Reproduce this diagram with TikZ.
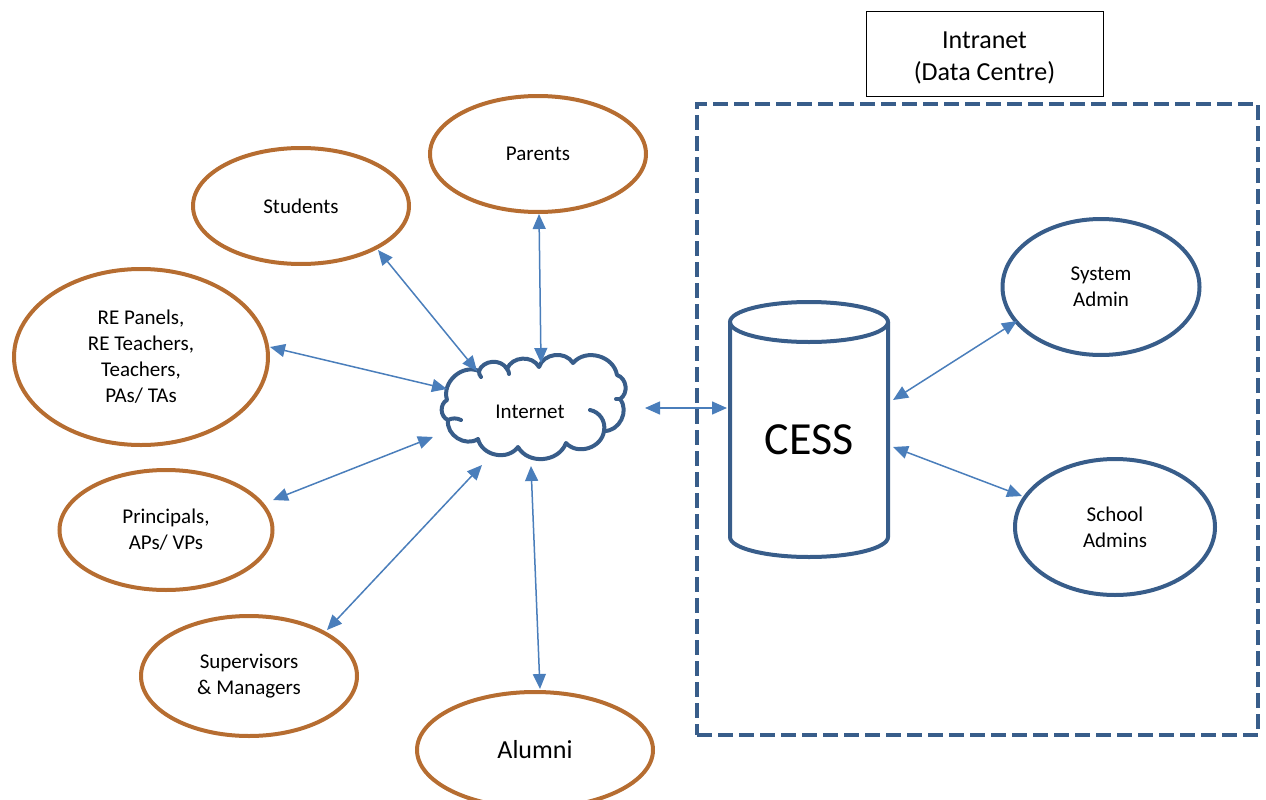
\documentclass[tikz,border=0pt]{standalone}
\usepackage{fontspec}
\setmainfont{Carlito}
\usetikzlibrary{shapes.geometric,arrows.meta,calc}
\definecolor{userring}{HTML}{B66D31}
\definecolor{adminring}{HTML}{385D8A}
\definecolor{linkblue}{HTML}{4A7EBB}
\begin{document}
\begin{tikzpicture}[x=1pt,y=-1pt,
  lbl/.style={font=\fontsize{21}{26}\selectfont},
  user/.style={ellipse,draw=userring,line width=4pt,inner sep=0pt,align=center,lbl},
  admin/.style={ellipse,draw=adminring,line width=4pt,inner sep=0pt,align=center,lbl},
  link/.style={draw=linkblue,line width=1.5pt,
    {Triangle[length=15pt,width=13pt]}-{Triangle[length=15pt,width=13pt]}},
  puff/.style={bend left=65,looseness=1.1},
  cloudline/.style={draw=adminring,line width=4pt,line cap=round,line join=round},
]
\path[use as bounding box] (0,0) rectangle (1266,800);
\clip (0,0) rectangle (1266,800);

% data centre frame and its caption
\node[draw=adminring,line width=4.5pt,dash pattern=on 15pt off 6pt,
      minimum width=561pt,minimum height=631pt] (dc) at (977.5,419.5) {};
\node[draw=black,line width=1pt,minimum width=237pt,minimum height=84pt,inner sep=0pt,
      label={[yshift=-4pt,align=center,font=\fontsize{26}{32}\selectfont]center:Intranet\\(Data Centre)}]
  (intra) at (984.5,54) {};

% user groups
\node[user,minimum width=216pt,minimum height=116pt] (parents) at (538,154) {Parents};
\node[user,minimum width=216pt,minimum height=116pt] (students) at (301,206) {Students};
\node[user,minimum width=254pt,minimum height=176pt] (repanel) at (141,357)
  {RE Panels,\\RE Teachers,\\Teachers,\\PAs/ TAs};
\node[user,minimum width=213pt,minimum height=120pt] (principals) at (166,530) {Principals,\\APs/ VPs};
\node[user,minimum width=216pt,minimum height=120pt] (supervisors) at (249,676) {Supervisors\\\& Managers};
\node[user,minimum width=236pt,minimum height=116pt,font=\fontsize{26}{30}\selectfont] (alumni) at (535,750) {Alumni};

% administrators
\node[admin,minimum width=197pt,minimum height=136pt] (sysadmin) at (1101,287) {System\\Admin};
\node[admin,minimum width=200pt,minimum height=136pt] (schooladmin) at (1115,527) {School\\Admins};

% internet cloud: label node plus puffed outline around it
\node[inner sep=0pt,lbl] (inet) at (530,412) {Internet};
\begin{scope}[shift={(inet.center)}]
  \draw[cloudline]
    (-83,-12) to[puff] (-51,-41) to[puff] (-23,-43) to[puff] (9,-45)
    to[puff] (43,-49) to[puff] (87,-37) to[puff] (90,-13) to[puff] (74,19)
    to[puff] (36,31) to[puff] (-12,35) to[puff] (-52,27) to[puff] (-82,8)
    to[puff] cycle;
  % inner folds of the puffs
  \draw[cloudline] (60,-2) to[bend left=45] (74,19);
  \draw[cloudline] (-82,8) to[bend left=25] (-69,8);
  \draw[cloudline] (-51,-41) to[bend right=20] (-49,-35);
  \draw[cloudline] (-23,-43) to[bend left=20] (-21,-38);
  \draw[cloudline] (90,-13) to[bend left=20] (86,-13);
\end{scope}

% central server
\node[minimum width=158pt,inner sep=0pt,font=\fontsize{46}{50}\selectfont] (cess) at (809,440) {CESS};
\draw[adminring,line width=4pt]
  ($(cess)+(-79,-118)$) -- ($(cess)+(-79,97)$)
  arc[start angle=180,end angle=360,x radius=79pt,y radius=20pt]
  -- ($(cess)+(79,-118)$);
\draw[adminring,line width=4pt] ($(cess)+(0,-118)$) ellipse[x radius=79pt,y radius=20pt];

% connections
\draw[link] ($(parents)+(1,60)$) -- ($(inet)+(11,-49)$);
\draw[link] ($(students)+(77,44)$) -- ($(inet)+(-53,-41)$);
\draw[link] ($(repanel)+(129,-10)$) -- ($(inet)+(-83,-23)$);
\draw[link] ($(principals)+(107,-30)$) -- ($(inet)+(-97,25)$);
\draw[link] ($(supervisors)+(78,-46)$) -- ($(inet)+(-48,53)$);
\draw[link] ($(alumni)+(5,-61)$) -- ($(inet)+(1,54)$);
\draw[link] ($(inet)+(115,-4)$) -- ($(cess)+(-82,-32)$);
\draw[link] ($(cess)+(84,-40)$) -- ($(sysadmin)+(-84,34)$);
\draw[link] ($(cess)+(84,7)$) -- ($(schooladmin)+(-93,-31)$);
\end{tikzpicture}
\end{document}
